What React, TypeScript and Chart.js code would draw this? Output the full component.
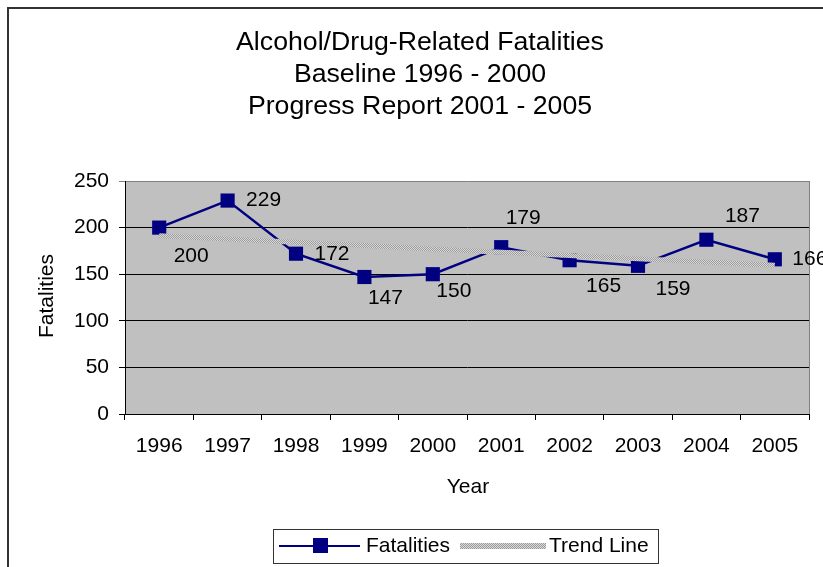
import React, { useEffect, useRef } from 'react';
import { Chart, registerables } from 'chart.js';

Chart.register(...registerables);

const categories = ['1996', '1997', '1998', '1999', '2000', '2001', '2002', '2003', '2004', '2005'];
const fatalities = [200, 229, 172, 147, 150, 179, 165, 159, 187, 166];
const titleLines = ['Alcohol/Drug-Related Fatalities', 'Baseline 1996 - 2000', 'Progress Report 2001 - 2005'];
const yAxisTitle = 'Fatalities';
const xAxisTitle = 'Year';
const seriesName = 'Fatalities';
const trendName = 'Trend Line';
const yMin = 0;
const yMax = 250;
const yStep = 50;

// label placement offsets (px) relative to each point
const labelDx = [32, 36, 36, 21, 21, 22, 34, 35, 36, 35];
const labelDy = [29, 0, 1, 21, 17, -29, 26, 23, -24, 0];

const FONT = '"Liberation Sans", Arial, Helvetica, sans-serif';
const NAVY = '#000080';

function linearTrend(values: number[]): number[] {
  const n = values.length;
  const mx = (n - 1) / 2;
  const my = values.reduce((a, b) => a + b, 0) / n;
  let sxy = 0;
  let sxx = 0;
  values.forEach((v, i) => {
    sxy += (i - mx) * (v - my);
    sxx += (i - mx) * (i - mx);
  });
  const slope = sxy / sxx;
  return values.map((_, i) => my + slope * (i - mx));
}

function makeTrendPattern(): CanvasPattern | string {
  const c = document.createElement('canvas');
  c.width = 2;
  c.height = 2;
  const g = c.getContext('2d');
  if (!g) return '#b0b0b0';
  g.fillStyle = '#d8d8d8';
  g.fillRect(0, 0, 2, 2);
  g.fillStyle = '#9c9c9c';
  g.fillRect(0, 0, 1, 1);
  g.fillRect(1, 1, 1, 1);
  const p = g.createPattern(c, 'repeat');
  return p || '#b0b0b0';
}

export default function App() {
  const ref = useRef<HTMLCanvasElement | null>(null);

  useEffect(() => {
    document.body.style.margin = '0';
    document.body.style.overflow = 'hidden';
    const canvas = ref.current;
    if (!canvas) return;
    const trendPattern = makeTrendPattern();
    const trend = linearTrend(fatalities);

    const decor = {
      id: 'decor',
      beforeDraw(chart: any) {
        const { ctx, chartArea: a, width, height } = chart;
        ctx.save();
        ctx.fillStyle = '#ffffff';
        ctx.fillRect(0, 0, width, height);
        ctx.fillStyle = '#c0c0c0';
        ctx.fillRect(a.left, a.top, a.right - a.left, a.bottom - a.top);
        // outer chart border
        ctx.fillStyle = '#333333';
        ctx.fillRect(7, 7, 2, height - 7);
        ctx.fillRect(7, 7, width - 7, 2);
        ctx.restore();
      },
      afterDraw(chart: any) {
        const { ctx, chartArea: a } = chart;
        ctx.save();
        // plot right border
        ctx.strokeStyle = '#808080';
        ctx.lineWidth = 1;
        ctx.beginPath();
        ctx.moveTo(a.right + 0.5, a.top);
        ctx.lineTo(a.right + 0.5, a.bottom);
        ctx.stroke();

        // titles
        ctx.fillStyle = '#000';
        ctx.textAlign = 'center';
        ctx.textBaseline = 'middle';
        ctx.font = `26.7px ${FONT}`;
        titleLines.forEach((t, i) => ctx.fillText(t, 420, 43 + i * 32));

        // axis titles
        ctx.font = `21px ${FONT}`;
        ctx.fillText(xAxisTitle, 468, 487);
        ctx.save();
        ctx.translate(47, 296);
        ctx.rotate(-Math.PI / 2);
        ctx.fillText(yAxisTitle, 0, 0);
        ctx.restore();

        // data labels
        const meta = chart.getDatasetMeta(0);
        meta.data.forEach((pt: any, i: number) => {
          ctx.fillText(String(fatalities[i]), pt.x + labelDx[i], pt.y + labelDy[i]);
        });

        // legend
        ctx.strokeStyle = '#333';
        ctx.lineWidth = 1;
        ctx.strokeRect(273.5, 529.5, 385, 34);
        ctx.strokeStyle = NAVY;
        ctx.lineWidth = 2;
        ctx.beginPath();
        ctx.moveTo(279, 546);
        ctx.lineTo(360, 546);
        ctx.stroke();
        ctx.fillStyle = NAVY;
        ctx.fillRect(313, 538, 15, 15);
        ctx.strokeStyle = trendPattern as any;
        ctx.lineWidth = 6;
        ctx.beginPath();
        ctx.moveTo(460, 546);
        ctx.lineTo(546, 546);
        ctx.stroke();
        ctx.fillStyle = '#000';
        ctx.textAlign = 'left';
        ctx.font = `21px ${FONT}`;
        ctx.fillText(seriesName, 366, 546);
        ctx.fillText(trendName, 549, 546);
        ctx.restore();
      },
    };

    const chart = new Chart(canvas, {
      type: 'line',
      data: {
        labels: categories,
        datasets: [
          {
            label: seriesName,
            data: fatalities,
            borderColor: NAVY,
            backgroundColor: NAVY,
            borderWidth: 2.5,
            pointStyle: 'rect',
            pointRadius: 10,
            pointBorderWidth: 0,
            pointBackgroundColor: NAVY,
            tension: 0,
            order: 1,
          },
          {
            label: trendName,
            data: trend,
            borderColor: trendPattern as any,
            borderWidth: 5,
            pointRadius: 0,
            tension: 0,
            order: 0,
          },
        ],
      },
      options: {
        animation: false,
        responsive: false,
        maintainAspectRatio: false,
        events: [],
        layout: { padding: { left: 0, right: 14, top: 181, bottom: 93 } },
        plugins: {
          legend: { display: false },
          title: { display: false },
          tooltip: { enabled: false },
        },
        scales: {
          x: {
            type: 'category',
            offset: true,
            grid: {
              offset: true,
              drawOnChartArea: false,
              drawTicks: true,
              tickLength: 6,
              color: '#000',
              lineWidth: 1,
            },
            border: { display: true, color: '#000', width: 1 },
            ticks: {
              color: '#000',
              font: { family: FONT, size: 21 },
              padding: 14,
              maxRotation: 0,
              autoSkip: false,
            },
            afterFit(scale: any) {
              scale.height = 60;
            },
          },
          y: {
            min: yMin,
            max: yMax,
            grid: {
              color: (c: any) => (c.tick && c.tick.value === yMax ? '#808080' : '#000'),
              lineWidth: 1,
              drawTicks: true,
              tickLength: 6,
            },
            border: { display: true, color: '#000', width: 1 },
            ticks: {
              stepSize: yStep,
              color: '#000',
              font: { family: FONT, size: 21 },
              padding: 10,
            },
            afterFit(scale: any) {
              scale.width = 125;
            },
          },
        },
      },
      plugins: [decor],
    });

    return () => chart.destroy();
  }, []);

  return (
    <div style={{ width: 823, height: 567, overflow: 'hidden' }}>
      <canvas ref={ref} width={823} height={567} style={{ display: 'block', width: 823, height: 567 }} />
    </div>
  );
}
